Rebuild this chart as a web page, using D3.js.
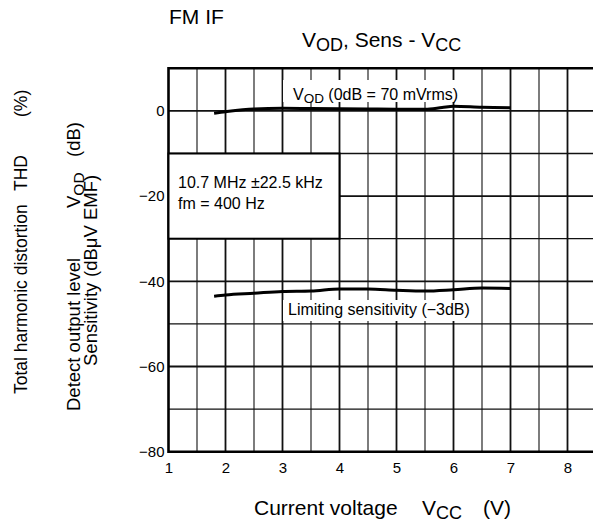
<!DOCTYPE html>
<html>
<head>
<meta charset="utf-8">
<script src="https://cdn.jsdelivr.net/npm/d3@7"></script>
<style>
  html, body { margin: 0; padding: 0; background: #fff; }
  svg { display: block; font-family: "Liberation Sans", Arial, Helvetica, sans-serif; }
</style>
</head>
<body>
<svg id="chart" width="593" height="525"></svg>
<script>
// Supply voltage (V) sample points for both curves
const vccVod  = [1.8, 2.0, 2.5, 3.0, 3.5, 4.0, 4.5, 5.0, 5.5, 5.8, 6.0, 6.5, 7.0];
// Detect output level VOD (dB, 0dB = 70 mVrms)
const vodDb   = [-0.55, -0.2, 0.45, 0.6, 0.55, 0.5, 0.45, 0.4, 0.4, 0.8, 1.1, 0.85, 0.75];

const vccSens = [1.8, 2.0, 2.5, 3.0, 3.5, 4.0, 4.5, 5.0, 5.5, 6.0, 6.5, 7.0];
// Limiting sensitivity (-3dB), dBμV EMF
const sensDb  = [-43.5, -43.2, -42.8, -42.4, -42.3, -41.8, -41.8, -42.1, -42.3, -42.0, -41.6, -41.7];

const xTicks = [1, 2, 3, 4, 5, 6, 7, 8];
const yTicks = [0, -20, -40, -60, -80];

const svg = d3.select("#chart");

const x = d3.scaleLinear().domain([1, 8.5]).range([168.5, 596]);
const y = d3.scaleLinear().domain([10, -80]).range([68.3, 451.7]);

// Grid: minor every 0.5 V / 10 dB, major at whole volts / 20 dB
const gridX = d3.range(1.5, 8.51, 0.5);
const gridY = d3.range(-70, 10, 10);
const grid = svg.append("g");
grid.selectAll("line.vx").data(gridX).join("line")
  .attr("x1", d => x(d)).attr("x2", d => x(d))
  .attr("y1", y(10)).attr("y2", y(-80))
  .attr("stroke", "#111")
  .attr("stroke-width", d => Number.isInteger(d) ? 1.8 : 1.1);
grid.selectAll("line.hy").data(gridY).join("line")
  .attr("x1", x(1)).attr("x2", x(8.5))
  .attr("y1", d => y(d)).attr("y2", d => y(d))
  .attr("stroke", "#111")
  .attr("stroke-width", d => d % 20 === 0 ? 1.8 : 1.3);

// Frame: left, bottom and top borders
const frame = svg.append("g").attr("stroke", "#000").attr("stroke-width", 2.6);
frame.append("line").attr("x1", x(1)).attr("x2", x(1)).attr("y1", y(10) - 1.3).attr("y2", y(-80) + 1.3);
frame.append("line").attr("x1", x(1)).attr("x2", x(8.5)).attr("y1", y(-80)).attr("y2", y(-80));
frame.append("line").attr("x1", x(1)).attr("x2", x(8.5)).attr("y1", y(10)).attr("y2", y(10));

// Axes (labels only; gridlines drawn above)
const xAxis = d3.axisBottom(x).tickValues(xTicks).tickSize(0).tickPadding(10.5).tickFormat(d3.format("d"));
const yAxis = d3.axisLeft(y).tickValues(yTicks).tickSize(0).tickPadding(4).tickFormat(d3.format("d"));

const gx = svg.append("g").attr("transform", `translate(0,${y(-80)})`).call(xAxis);
const gy = svg.append("g").attr("transform", `translate(${x(1)},0)`).call(yAxis);
[gx, gy].forEach(g => {
  g.select(".domain").remove();
  g.selectAll("text").attr("font-size", 15).attr("fill", "#000")
    .attr("font-family", "Liberation Sans, Arial, sans-serif");
});

// Condition box
const box = svg.append("g");
box.append("rect")
  .attr("x", x(1)).attr("y", y(-10))
  .attr("width", x(4) - x(1)).attr("height", y(-30) - y(-10))
  .attr("fill", "#fff").attr("stroke", "#000").attr("stroke-width", 2);
box.append("text").attr("x", 178).attr("y", 188).attr("font-size", 16)
  .text("10.7 MHz \u00B122.5 kHz");
box.append("text").attr("x", 178).attr("y", 208.5).attr("font-size", 16)
  .text("fm = 400 Hz");

// Curve labels with white backing
svg.append("rect").attr("x", 283).attr("y", 80).attr("width", 184).attr("height", 22).attr("fill", "#fff");
const vodLbl = svg.append("text").attr("x", 293).attr("y", 100).attr("font-size", 16);
vodLbl.append("tspan").text("V");
vodLbl.append("tspan").attr("font-size", 13.5).attr("dy", 3).text("OD");
vodLbl.append("tspan").attr("dy", -3).text(" (0dB = 70 mVrms)");

svg.append("rect").attr("x", 283).attr("y", 300).attr("width", 192).attr("height", 21).attr("fill", "#fff");
svg.append("text").attr("x", 288).attr("y", 315).attr("font-size", 16)
  .text("Limiting sensitivity (\u22123dB)");

// Curves
const line = d3.line().x(d => x(d[0])).y(d => y(d[1])).curve(d3.curveMonotoneX);
svg.append("path").datum(d3.zip(vccVod, vodDb)).attr("d", line)
  .attr("fill", "none").attr("stroke", "#000").attr("stroke-width", 3);
svg.append("path").datum(d3.zip(vccSens, sensDb)).attr("d", line)
  .attr("fill", "none").attr("stroke", "#000").attr("stroke-width", 3);

// Titles
svg.append("text").attr("x", 169).attr("y", 24).attr("font-size", 21).text("FM IF");
const title = svg.append("text").attr("x", 302).attr("y", 47).attr("font-size", 21);
title.append("tspan").text("V");
title.append("tspan").attr("font-size", 18).attr("dy", 4).text("OD");
title.append("tspan").attr("dy", -4).text(", Sens - V");
title.append("tspan").attr("font-size", 18).attr("dy", 4).text("CC");

// X axis title
const xt = svg.append("text").attr("y", 515).attr("font-size", 21);
xt.append("tspan").attr("x", 254).text("Current voltage");
xt.append("tspan").attr("x", 422).text("V");
xt.append("tspan").attr("font-size", 18).attr("dy", 4).text("CC");
xt.append("tspan").attr("x", 483).attr("dy", -4).text("(V)");

// Rotated Y axis titles; each fragment starts at a given page y (bottom end)
function vtext(bx, size, parts) {
  const t = svg.append("text").attr("font-size", size)
    .attr("transform", `translate(${bx},0) rotate(-90)`);
  parts.forEach(p => {
    const s = t.append("tspan").text(p.t);
    if (p.y !== undefined) s.attr("x", -p.y);
    if (p.sub) s.attr("font-size", size - 3).attr("dy", 4);
    if (p.up) s.attr("dy", -4);
  });
  return t;
}
vtext(27, 17.5, [
  { t: "Total harmonic distortion", y: 394 },
  { t: "THD", y: 191 },
  { t: "(%)", y: 117 }
]);
vtext(80, 18.5, [
  { t: "Detect output level", y: 411 },
  { t: "V", y: 208 },
  { t: "OD", sub: true },
  { t: "(dB)", y: 157, up: true }
]);
vtext(97, 18.5, [
  { t: "Sensitivity", y: 366 },
  { t: "(dB\u03BCV EMF)", y: 277 }
]);
</script>
</body>
</html>
